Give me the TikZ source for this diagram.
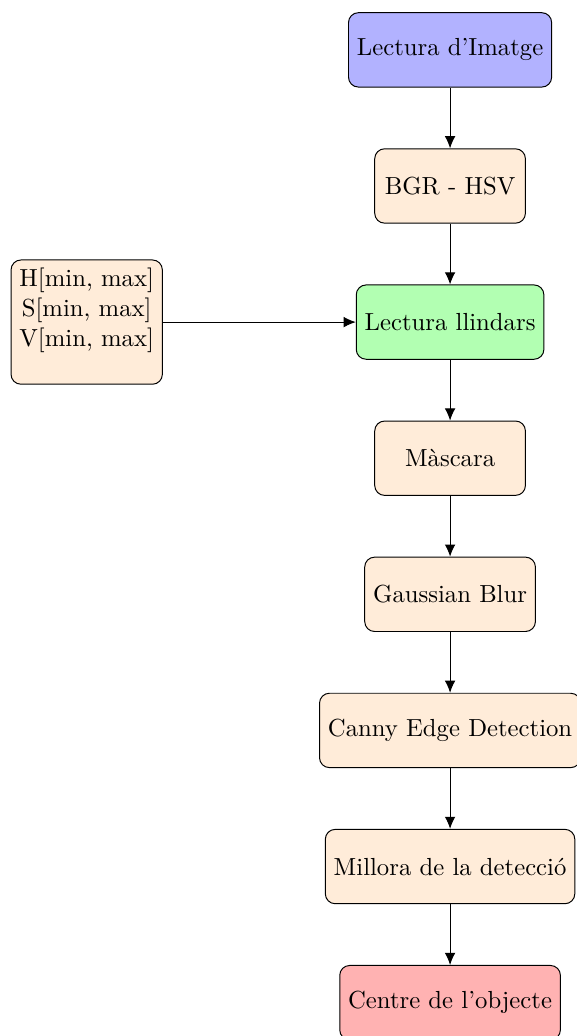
\documentclass[tikz,border=0pt]{standalone}
\usetikzlibrary{arrows.meta}
\begin{document}
\begin{tikzpicture}[
  base/.style={rectangle, rounded corners=4pt, draw=black, minimum height=30.1pt, inner sep=3.4pt, align=center},
  proc/.style={base, fill=orange!15},
  procw/.style={proc, minimum width=61pt},
  io/.style={base, fill=blue!30},
  thr/.style={base, fill=green!30},
  fin/.style={base, fill=red!30},
  arr/.style={-{Latex[length=4.9pt,width=4.3pt]}, draw=black}
]
\useasboundingbox (0,0) rectangle (233.2pt,419.4pt);
\node[io]    (img)   at (182.2pt,399.2pt) {Lectura d'Imatge};
\node[procw] (hsv)   at (182.2pt,344.1pt) {BGR - HSV};
\node[thr]   (thr)   at (182.2pt,289.0pt) {Lectura llindars};
\node[procw] (mask)  at (182.2pt,233.9pt) {Màscara};
\node[proc]  (blur)  at (182.2pt,178.8pt) {Gaussian Blur};
\node[proc]  (canny) at (182.2pt,123.7pt) {Canny Edge Detection};
\node[proc]  (det)   at (182.2pt,68.6pt)  {Millora de la detecció};
\node[fin]   (cen)   at (182.2pt,13.5pt)  {Centre de l'objecte};
\node[proc]  (lim)   at (35.1pt,289.0pt)  {H[min, max]\\S[min, max]\\V[min, max]\\ \mbox{}};
\draw[arr] (img) -- (hsv);
\draw[arr] (hsv) -- (thr);
\draw[arr] (thr) -- (mask);
\draw[arr] (mask) -- (blur);
\draw[arr] (blur) -- (canny);
\draw[arr] (canny) -- (det);
\draw[arr] (det) -- (cen);
\draw[arr] (lim.east |- thr.west) -- (thr.west);
\end{tikzpicture}
\end{document}
